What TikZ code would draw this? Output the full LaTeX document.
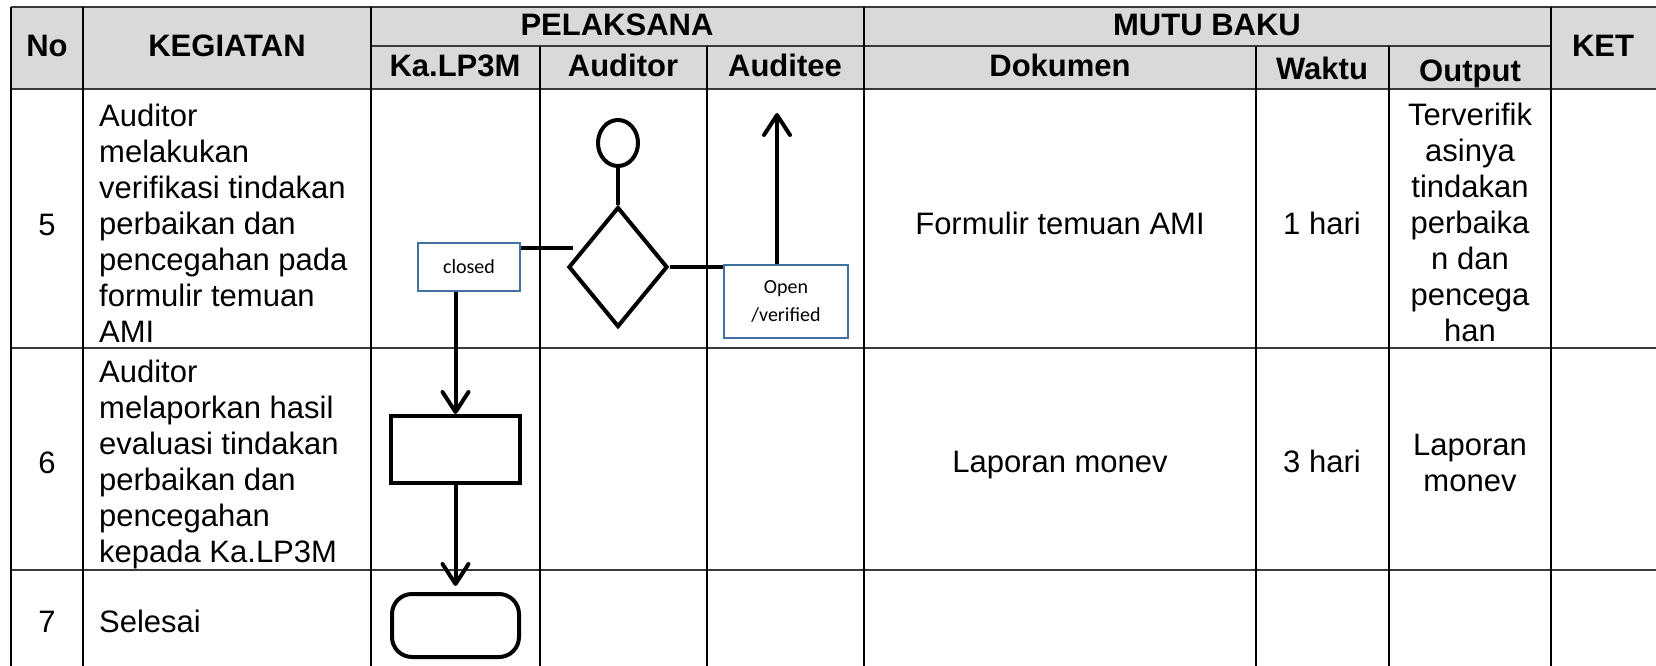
\documentclass[tikz,border=0pt]{standalone}
\usepackage{fontspec}
\setmainfont{Liberation Sans}
\newfontfamily\boxfont{Carlito}
\usetikzlibrary{arrows.meta,positioning,calc,shapes.geometric}
\definecolor{SOPHead}{HTML}{D9D9D9}
\definecolor{SOPRule}{HTML}{3A3A3A}
\definecolor{SOPBlue}{HTML}{41719C}

\begin{document}
\begin{tikzpicture}[x=1pt,y=-1pt,
  rowrule/.style={SOPRule,line width=2pt},
  colrule/.style={black,line width=1.4pt},
  txt/.style={inner sep=0pt,font=\fontsize{31}{36}\selectfont,align=center},
  onetxt/.style={txt,text height=22pt,text depth=0pt},
  headtxt/.style={onetxt,font=\fontsize{31}{36}\selectfont\bfseries},
  bodytxt/.style={txt,align=left,anchor=north west},
  flow/.style={draw,line width=4pt},
  tag/.style={draw=SOPBlue,line width=2pt,fill=white,inner sep=0pt,align=center,font=\boxfont\fontsize{20}{28}\selectfont},
  arr/.style={flow,-{Straight Barb[length=20pt,width=26pt,round]}},
]
\useasboundingbox (0,0) rectangle (1656,666);
\fill[SOPHead] (11,7) rectangle (1656,89);

\foreach \y in {7,89,348,570} \draw[rowrule] (11,\y) -- (1656,\y);
\draw[rowrule] (371,46) -- (1551,46);
\foreach \x in {11,83,371,864,1551} \draw[colrule] (\x,7) -- (\x,666);
\foreach \x in {540,707,1256,1389} \draw[colrule] (\x,46) -- (\x,666);

\node[headtxt] (hNo) at (47,46) {No};
\node[headtxt] (hKeg) at (227,46) {KEGIATAN};
\node[headtxt] (hPel) at (617,25) {PELAKSANA};
\node[headtxt] (hKa) at (455,66) {Ka.LP3M};
\node[headtxt] (hAuditor) at (623,66) {Auditor};
\node[headtxt] (hAuditee) at (785,66) {Auditee};
\node[headtxt] (hMutu) at (1207,25) {MUTU BAKU};
\node[headtxt] (hDok) at (1060,66) {Dokumen};
\node[headtxt] (hWaktu) at (1322,69) {Waktu};
\node[headtxt] (hOut) at (1470,71) {Output};
\node[headtxt] (hKet) at (1603,46) {KET};

\node[onetxt] (no5) at (47,224) {5};
\node[onetxt] (no6) at (47,462) {6};
\node[onetxt] (no7) at (47,621) {7};
\node[bodytxt] (keg5) at (99,104) {Auditor\\melakukan\\verifikasi tindakan\\perbaikan dan\\pencegahan pada\\formulir temuan\\AMI};
\node[bodytxt] (keg6) at (99,360) {Auditor\\melaporkan hasil\\evaluasi tindakan\\perbaikan dan\\pencegahan\\kepada Ka.LP3M};
\node[onetxt,anchor=west] (keg7) at (99,621) {Selesai};
\node[onetxt] (dok5) at (1060,223) {Formulir temuan AMI};
\node[onetxt] (dok6) at (1060,461) {Laporan monev};
\node[onetxt] (wkt5) at (1322,223) {1 hari};
\node[onetxt] (wkt6) at (1322,461) {3 hari};
\node[txt,anchor=north] (out5) at (1470,103) {Terverifik\\asinya\\tindakan\\perbaika\\n dan\\pencega\\han};
\node[txt] (out6) at (1470,463) {Laporan\\monev};

\node[flow,ellipse,minimum width=40pt,minimum height=46pt,inner sep=0pt] (conn) at (618,143) {};
\node[flow,diamond,minimum width=99pt,minimum height=120pt,inner sep=0pt] (dec) at (618,267) {};
\node[tag,minimum width=102pt,minimum height=48pt] (closed) at (469,267) {closed};
\node[tag,minimum width=124pt,minimum height=73pt] (open) at (786,301) {Open\\/verified};
\node[flow,minimum width=129pt,minimum height=67pt] (act) at (455.5,449.5) {};
\node[flow,rounded corners=20pt,minimum width=127pt,minimum height=63pt,below=107pt of act] (stop) {};
\coordinate (tap) at ([yshift=-6pt]closed.north east);
\coordinate (exit) at (777,113);

\draw[flow] (conn) -- (dec);
\draw[flow] (tap) -- ($(tap -| dec.west)+(6,0)$);
\draw[flow] (dec.east) -- (dec.east -| open.west);
\draw[arr] (exit |- open.north) -- (exit);
\draw[arr] (act.north |- closed.south) -- (act.north);
\draw[arr,shorten >=6pt] (act.south) -- (stop.north);
\end{tikzpicture}
\end{document}
